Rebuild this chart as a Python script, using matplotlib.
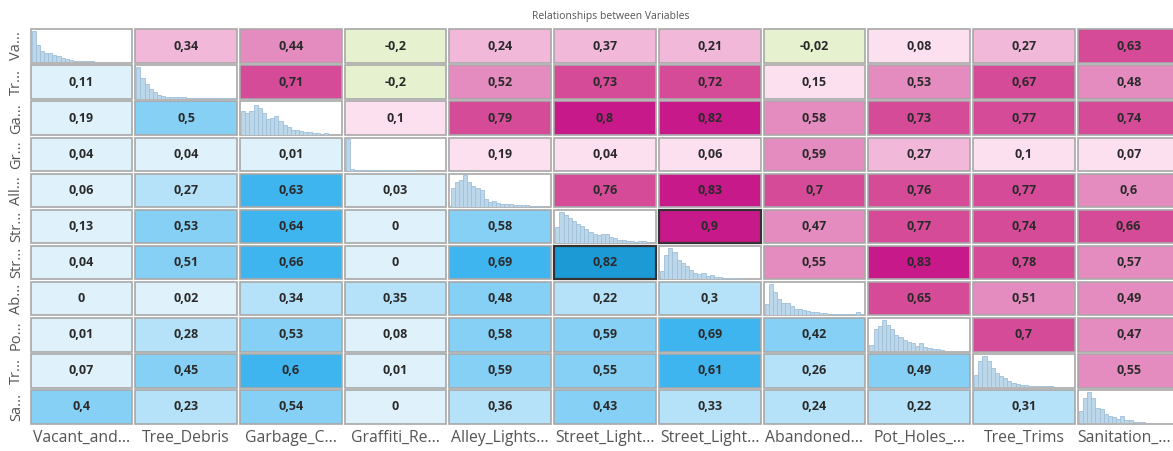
import numpy as np
import matplotlib
matplotlib.use("Agg")
import matplotlib.pyplot as plt
from matplotlib.patches import Rectangle
from matplotlib.transforms import offset_copy

plt.rcParams['font.family'] = ['Open Sans', 'DejaVu Sans']

# 变量名（截断后的标签）
row_labels = ["Va...", "Tr...", "Ga...", "Gr...", "All...", "Str...", "Str...",
              "Ab...", "Po...", "Tr...", "Sa..."]
col_labels = ["Vacant_and...", "Tree_Debris", "Garbage_C...", "Graffiti_Re...",
              "Alley_Lights...", "Street_Light...", "Street_Light...", "Abandoned...",
              "Pot_Holes_...", "Tree_Trims", "Sanitation_..."]

# 上三角（粉色）和下三角（蓝色）的相关系数，对角线为 None
corr = [
    [None, 0.34, 0.44, -0.2, 0.24, 0.37, 0.21, -0.02, 0.08, 0.27, 0.63],
    [0.11, None, 0.71, -0.2, 0.52, 0.73, 0.72, 0.15, 0.53, 0.67, 0.48],
    [0.19, 0.5, None, 0.1, 0.79, 0.8, 0.82, 0.58, 0.73, 0.77, 0.74],
    [0.04, 0.04, 0.01, None, 0.19, 0.04, 0.06, 0.59, 0.27, 0.1, 0.07],
    [0.06, 0.27, 0.63, 0.03, None, 0.76, 0.83, 0.7, 0.76, 0.77, 0.598],
    [0.13, 0.53, 0.64, 0, 0.58, None, 0.9, 0.47, 0.77, 0.74, 0.66],
    [0.04, 0.51, 0.66, 0, 0.69, 0.82, None, 0.55, 0.83, 0.78, 0.57],
    [0, 0.02, 0.34, 0.35, 0.48, 0.22, 0.3, None, 0.65, 0.51, 0.49],
    [0.01, 0.28, 0.53, 0.08, 0.58, 0.59, 0.69, 0.42, None, 0.7, 0.47],
    [0.07, 0.45, 0.6, 0.01, 0.59, 0.55, 0.61, 0.26, 0.49, None, 0.55],
    [0.4, 0.23, 0.54, 0, 0.36, 0.43, 0.33, 0.24, 0.22, 0.31, None],
]

# 对角线直方图（相对高度）
hist_va = [1.0, 0.55, 0.35, 0.3, 0.3, 0.25, 0.2, 0.15, 0.12, 0.08, 0.06, 0.05, 0.04,
           0.04, 0.04, 0.03, 0.03, 0.02, 0.02, 0.01, 0.01, 0.0, 0.0, 0.02]
hist_tr = [1.0, 0.65, 0.45, 0.3, 0.2, 0.12, 0.08, 0.06, 0.05, 0.05, 0.04, 0.04, 0.03,
           0.03, 0.03, 0.02, 0.02, 0.02, 0.01, 0.02, 0.01, 0.01, 0.01, 0.01]
hist_ga = [0.75, 0.7, 0.75, 0.95, 0.85, 0.7, 0.5, 0.52, 0.6, 0.45, 0.3, 0.25, 0.15,
           0.15, 0.12, 0.1, 0.08, 0.06, 0.04, 0.02, 0.05]
hist_gr = [1.0, 0.06, 0.03, 0.02, 0.02, 0.01, 0.01, 0.01, 0.01, 0.01, 0.01, 0.01,
           0.01, 0.01, 0.01, 0.01, 0.01]
hist_all = [0.6, 0.8, 0.85, 1.0, 0.8, 0.65, 0.6, 0.55, 0.25, 0.15, 0.2, 0.12, 0.1,
            0.1, 0.08, 0.05, 0.05, 0.05, 0.05, 0.04, 0.03, 0.02]
hist_str1 = [0.5, 1.0, 0.9, 0.8, 0.7, 0.6, 0.55, 0.45, 0.35, 0.3, 0.25, 0.3, 0.28,
             0.2, 0.15, 0.1, 0.08, 0.05, 0.05, 0.04, 0.05, 0.06]
hist_str2 = [0.25, 0.75, 1.0, 0.85, 0.6, 0.5, 0.4, 0.3, 0.2, 0.15, 0.2, 0.1, 0.12,
             0.08, 0.05, 0.04, 0.03, 0.02, 0.02, 0.02, 0.01]
hist_ab = [0.35, 1.0, 0.75, 0.5, 0.4, 0.38, 0.3, 0.2, 0.18, 0.15, 0.12, 0.1, 0.1,
           0.08, 0.06, 0.05, 0.05, 0.03, 0.04, 0.02, 0.03, 0.02, 0.1]
hist_po = [0.2, 0.7, 0.8, 1.0, 0.85, 0.7, 0.5, 0.45, 0.35, 0.3, 0.25, 0.15, 0.25,
           0.12, 0.1, 0.08, 0.08, 0.05, 0.02]
hist_trt = [0.4, 0.85, 1.0, 0.85, 0.6, 0.45, 0.35, 0.3, 0.2, 0.15, 0.12, 0.08, 0.06,
            0.05, 0.05, 0.04, 0.03, 0.03, 0.03, 0.02]
hist_sa = [0.4, 0.8, 1.0, 0.8, 0.5, 0.45, 0.3, 0.25, 0.2, 0.15, 0.25, 0.1, 0.12,
           0.05, 0.05, 0.03, 0.02, 0.02]
hists = [hist_va, hist_tr, hist_ga, hist_gr, hist_all, hist_str1, hist_str2,
         hist_ab, hist_po, hist_trt, hist_sa]

# 颜色分段
bins = [0.0, 0.2, 0.4, 0.6, 0.8]
pink_colors = ["#fde0ef", "#f2b8da", "#e48cbf", "#d64b97", "#c8198a"]
blue_colors = ["#dff1fb", "#b5e2f8", "#86d0f5", "#3fb5ef", "#1c9ad6"]
neg_color = "#e6f1cf"


def cell_color(v, upper):
    if v < 0:
        return neg_color
    idx = int(np.searchsorted(bins, v, side="right")) - 1
    return pink_colors[idx] if upper else blue_colors[idx]


def fmt(v):
    s = f"{round(v, 2):.2f}".rstrip("0").rstrip(".")
    if s in ("-0", ""):
        s = "0"
    return s.replace(".", ",")


n = len(row_labels)
fig = plt.figure(figsize=(11.73, 4.51), dpi=100)
ax = fig.add_axes([29 / 1173, 26 / 451, 1152 / 1173, 397 / 451])
ax.set_xlim(0, n)
ax.set_ylim(n, 0)
ax.set_axis_off()

gx, gy = 0.03, 0.07
upper_max = max(corr[i][j] for i in range(n) for j in range(n) if j > i)
lower_max = max(corr[i][j] for i in range(n) for j in range(n) if j < i)

for i in range(n):
    for j in range(n):
        if i == j:
            ax.add_patch(Rectangle((j + gx / 2, i + gy / 2), 1 - gx, 1 - gy,
                                   facecolor="white", edgecolor="#a8a8a8", lw=1.2))
            h = hists[i]
            # 直方图放在对角线单元格内（axes 坐标）
            x0 = (j + gx / 2 + 0.01) / n
            y0 = (n - (i + 1) + gy / 2 + 0.01) / n
            iax = ax.inset_axes([x0, y0, (1 - gx - 0.02) / n, (1 - gy - 0.06) / n],
                                transform=ax.transAxes)
            iax.bar(np.arange(len(h)) + 0.5, h, width=1.0, color="#bcd7ea",
                    edgecolor="#9fc0da", linewidth=0.6)
            iax.set_xlim(0, 24)
            iax.set_ylim(0, 1.0)
            iax.set_axis_off()
            continue
        v = corr[i][j]
        upper = j > i
        highlight = v == (upper_max if upper else lower_max)
        ax.add_patch(Rectangle((j + gx / 2, i + gy / 2), 1 - gx, 1 - gy,
                               facecolor=cell_color(v, upper),
                               edgecolor="#333333" if highlight else "#a8a8a8",
                               lw=1.6 if highlight else 1.2))
        ax.text(j + 0.5, i + 0.5, fmt(v), ha="center", va="center",
                fontsize=9, fontweight="bold", color="#2a2a2a")

for i, lab in enumerate(row_labels):
    ax.text(-0.12, i + 0.5, lab, rotation=90, ha="center", va="center",
            fontsize=10.5, color="#555555")

col_texts = []
for j, lab in enumerate(col_labels):
    col_texts.append(ax.text(j + 0.5, n + 0.13, lab, ha="center", va="top",
                             fontsize=11.3, color="#555555"))

fig.text(611 / 1173, 1 - 16 / 451, "Relationships between Variables", ha="center",
         va="center", fontsize=7.5, color="#555555")

# 最后一个标签超出右边界时向左移
fig.canvas.draw()
renderer = fig.canvas.get_renderer()
fig_w = fig.get_figwidth() * fig.dpi
for t in col_texts:
    bb = t.get_window_extent(renderer)
    if bb.x1 > fig_w - 2:
        shift = (bb.x1 - (fig_w - 2)) * 72 / fig.dpi
        t.set_transform(offset_copy(ax.transData, fig=fig, x=-shift, y=0,
                                    units="points"))

fig.savefig("out.png", dpi=100)
